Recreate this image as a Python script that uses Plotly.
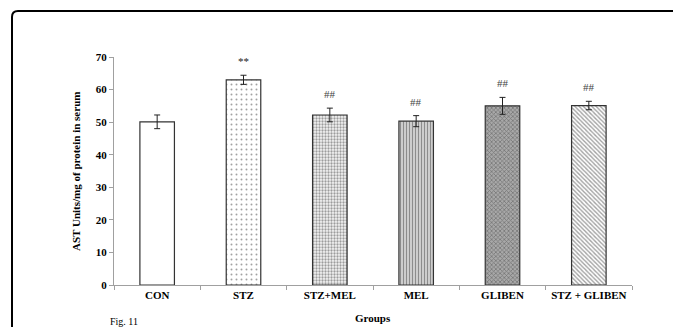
import plotly.graph_objects as go

groups = ["CON", "STZ", "STZ+MEL", "MEL", "GLIBEN", "STZ + GLIBEN"]
ast_values = [50.1, 63.0, 52.2, 50.3, 55.0, 55.1]
ast_errors = [2.1, 1.4, 2.1, 1.7, 2.6, 1.3]
significance = ["", "**", "##", "##", "##", "##"]

bar_bg = ["#ffffff", "#ffffff", "#f4f4f4", "#d4d4d4", "#a8a8a8", "#ffffff"]
patterns = ["", ".", ".", "|", "x", "\\"]
pattern_sizes = [6, 5, 3, 3, 3, 3]
pattern_solid = [0.1, 0.12, 0.45, 0.4, 0.45, 0.45]
pattern_fg = ["#ffffff", "#707070", "#8a8a8a", "#777777", "#505050", "#6a6a6a"]

FONT = "Liberation Serif"

# browser body margin offsets the figure by 8px
OFF = 8
FW, FH = 681 - OFF, 327 - OFF

fig = go.Figure()
fig.add_trace(go.Bar(
    x=groups,
    y=ast_values,
    width=0.4,
    marker=dict(
        color=bar_bg,
        line=dict(color="#333333", width=1.2),
        pattern=dict(shape=patterns, size=pattern_sizes, solidity=pattern_solid,
                     fgcolor=pattern_fg, fillmode="overlay"),
    ),
    error_y=dict(type="data", array=ast_errors, visible=True,
                 color="#222222", thickness=1, width=3),
    showlegend=False,
))

for g, v, e, s in zip(groups, ast_values, ast_errors, significance):
    if s:
        fig.add_annotation(x=g, y=v + e + 4.3, text=s, showarrow=False,
                           font=dict(family=FONT, size=11,
                                     color="#222222" if s == "**" else "#444444"),
                           xanchor="center", yanchor="middle")

# plot area in screen pixels
L, T, B, R = 114 - OFF, 57 - OFF, 285 - OFF, 632 - OFF
W = R - L
H = B - T
def px(x):
    return (x - OFF - L) / W
def py(y):
    return (B - (y - OFF)) / H
x0, yt, yb, x1 = px(12), py(11), py(335), px(690)
rx, ry = 6 / W, 6 / H
fig.add_shape(type="path", xref="paper", yref="paper",
              path=f"M {x0},{yb} L {x0},{yt - ry} Q {x0},{yt} {x0 + rx},{yt} L {x1},{yt}",
              line=dict(color="black", width=2))

fig.add_annotation(xref="paper", yref="paper", x=px(108), y=py(321),
                   text="Fig. 11", showarrow=False, xanchor="left", yanchor="middle",
                   font=dict(family=FONT, size=10, color="black"))
fig.add_annotation(xref="paper", yref="paper", x=px(373), y=py(318),
                   text="<b>Groups</b>", showarrow=False, xanchor="center", yanchor="middle",
                   font=dict(family=FONT, size=11, color="black"))
fig.add_annotation(xref="paper", yref="paper", x=px(76), y=py(172),
                   text="<b>AST Units/mg of protein in serum</b>", showarrow=False,
                   textangle=-90, xanchor="center", yanchor="middle",
                   font=dict(family=FONT, size=11, color="black"))

fig.update_layout(
    width=FW, height=FH,
    margin=dict(l=L, r=FW - R, t=T, b=FH - B, autoexpand=False),
    paper_bgcolor="white", plot_bgcolor="white",
    font=dict(family=FONT, size=11, color="black"),
)
fig.update_xaxes(
    showline=True, linecolor="#a0a0a0", linewidth=1,
    ticks="outside", tickson="boundaries", ticklen=4, tickcolor="#a0a0a0",
    tickangle=0, automargin=False,
    tickfont=dict(family=FONT, size=11, color="black", weight="bold"),
    showgrid=False, zeroline=False,
)
fig.update_yaxes(
    range=[0, 70], dtick=10,
    showline=True, linecolor="#a0a0a0", linewidth=1,
    ticks="outside", ticklen=4, tickcolor="#a0a0a0", automargin=False,
    tickfont=dict(family=FONT, size=11, color="black", weight="bold"),
    showgrid=False, zeroline=False,
)

fig.write_html("out.html")
